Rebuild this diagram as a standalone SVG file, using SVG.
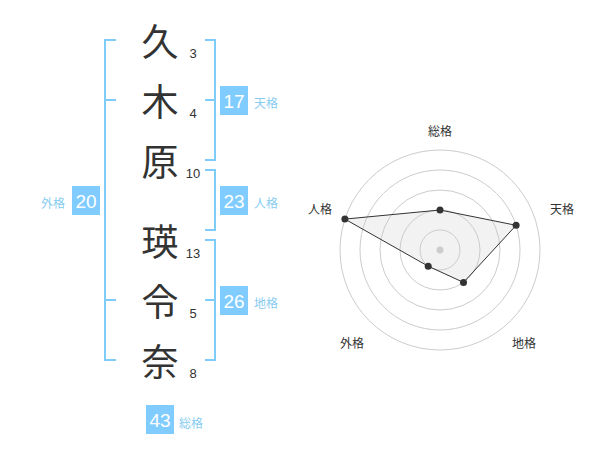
<svg xmlns="http://www.w3.org/2000/svg" width="600" height="470" viewBox="0 0 600 470">
<style>
.ch{font-family:"Noto Sans CJK JP","Noto Sans CJK SC",sans-serif;font-size:37px;fill:#333;text-anchor:middle;dominant-baseline:central}
.num{font-family:"Liberation Sans",Arial,sans-serif;font-size:13px;fill:#333;text-anchor:middle;dominant-baseline:central}
.br{fill:none;stroke:#80ccf8;stroke-width:2}
.box{fill:#80ccff}
.bt{font-family:"Liberation Sans",Arial,sans-serif;font-size:19px;fill:#fff;text-anchor:middle;dominant-baseline:central}
.bl{font-family:"Noto Sans CJK JP",sans-serif;font-size:12px;fill:#88ccf0;dominant-baseline:central}
.ring{fill:none;stroke:#ccc;stroke-width:1}
.rl{font-family:"Noto Sans CJK JP",sans-serif;font-size:12px;fill:#333;text-anchor:middle;dominant-baseline:central}
.pt{fill:#333}
</style>
<g id="connectors">
<path class="br" d="M116,40 H105 V360 H116 M105,100 H116 M105,300 H116"/>
<path class="br" d="M205,40 H215 V160 H205 M205,100 H215"/>
<path class="br" d="M205,170 H215 V230 H205"/>
<path class="br" d="M205,240 H215 V360 H205 M205,300 H215"/>
</g>
<g id="chars">
<g id="c1"><text class="ch" x="160" y="40">久</text><text class="num" x="193" y="53">3</text></g>
<g id="c2"><text class="ch" x="160" y="100">木</text><text class="num" x="193" y="113">4</text></g>
<g id="c3"><text class="ch" x="160" y="160">原</text><text class="num" x="193" y="173">10</text></g>
<g id="c4"><text class="ch" x="160" y="240">瑛</text><text class="num" x="193" y="253">13</text></g>
<g id="c5"><text class="ch" x="160" y="300">令</text><text class="num" x="193" y="313">5</text></g>
<g id="c6"><text class="ch" x="160" y="360">奈</text><text class="num" x="193" y="373">8</text></g>
</g>
<g id="tenkaku"><rect class="box" x="220" y="86" width="28" height="29"/><text class="bt" x="234" y="101">17</text><text class="bl" x="254" y="102">天格</text></g>
<g id="jinkaku"><rect class="box" x="220" y="186" width="28" height="29"/><text class="bt" x="234" y="201">23</text><text class="bl" x="254" y="202">人格</text></g>
<g id="chikaku"><rect class="box" x="220" y="286" width="28" height="29"/><text class="bt" x="234" y="301">26</text><text class="bl" x="254" y="302">地格</text></g>
<g id="gaikaku"><rect class="box" x="72" y="186" width="28" height="29"/><text class="bt" x="86" y="201">20</text><text class="bl" x="41" y="202">外格</text></g>
<g id="soukaku"><rect class="box" x="146" y="405" width="28" height="29"/><text class="bt" x="160" y="420">43</text><text class="bl" x="179" y="422">総格</text></g>
<g id="radar">
<circle class="ring" cx="440" cy="250" r="20"/>
<circle class="ring" cx="440" cy="250" r="40"/>
<circle class="ring" cx="440" cy="250" r="60"/>
<circle class="ring" cx="440" cy="250" r="80"/>
<circle class="ring" cx="440" cy="250" r="100"/>
<circle cx="440" cy="250" r="3.5" fill="#ccc"/>
<polygon points="440,210 516.1,225.3 463.5,282.4 428.2,266.2 344.9,219.1" fill="#ccc" fill-opacity="0.25" stroke="#333" stroke-width="1"/>
<circle class="pt" cx="440" cy="210" r="3.5"/>
<circle class="pt" cx="516.1" cy="225.3" r="3.5"/>
<circle class="pt" cx="463.5" cy="282.4" r="3.5"/>
<circle class="pt" cx="428.2" cy="266.2" r="3.5"/>
<circle class="pt" cx="344.9" cy="219.1" r="3.5"/>
<text class="rl" x="440" y="130">総格</text>
<text class="rl" x="562" y="208">天格</text>
<text class="rl" x="524" y="342">地格</text>
<text class="rl" x="352" y="342">外格</text>
<text class="rl" x="320" y="208">人格</text>
</g>
</svg>
